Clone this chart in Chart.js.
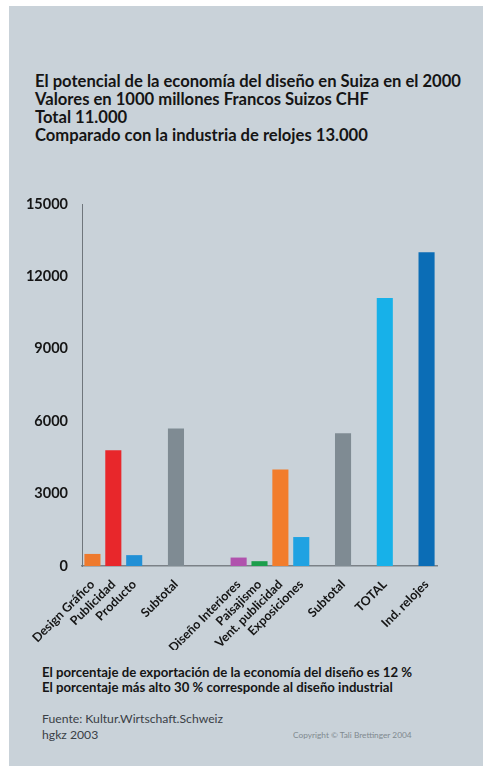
<!DOCTYPE html>
<html>
<head>
<meta charset="utf-8">
<script src="https://cdn.jsdelivr.net/npm/chart.js@4"></script>
<style>
  html, body { margin: 0; padding: 0; background: #ffffff; }
  #page { position: relative; width: 488px; height: 772px; overflow: hidden; }
  #panel { position: absolute; left: 9px; top: 6px; width: 474px; height: 760px; background: #c9d2d9; }
  .txt { position: absolute; white-space: nowrap; font-family: Lato, "Open Sans", sans-serif; color: #151515; }
  #title { left: 35px; top: 72px; font-size: 16.6px; font-weight: bold; line-height: 18px; }
  #note { left: 42px; top: 665px; font-size: 13.2px; font-weight: bold; line-height: 14.5px; }
  #source { left: 42px; top: 711px; font-size: 12.2px; line-height: 16px; color: #3a4046; }
  #copy { left: 293px; top: 730px; font-size: 8.3px; color: #7f898f; }
  #chart { position: absolute; left: 0; top: 180px; }
</style>
</head>
<body>
<div id="page">
  <div id="panel"></div>
  <div id="title" class="txt">El potencial de la economía del diseño en Suiza en el 2000<br>Valores en 1000 millones Francos Suizos CHF<br>Total 11.000<br>Comparado con la industria de relojes 13.000</div>
  <canvas id="chart" width="488" height="470"></canvas>
  <div id="note" class="txt">El porcentaje de exportación de la economía del diseño es 12 %<br>El porcentaje más alto 30 % corresponde al diseño industrial</div>
  <div id="source" class="txt">Fuente: Kultur.Wirtschaft.Schweiz<br>hgkz 2003</div>
  <div id="copy" class="txt">Copyright © Tali Brettinger 2004</div>
</div>
<script>
// categories (empty strings are the gaps between groups)
const categories = ['Design Gráfico', 'Publicidad', 'Producto', '', 'Subtotal', '', '',
    'Diseño Interiores', 'Paisajismo', 'Vent. publicidad', 'Exposiciones', '', 'Subtotal', '',
    'TOTAL', '', 'Ind. relojes'];
// values in 1000 millones CHF
const values = [500, 4800, 450, null, 5700, null, null,
    350, 200, 4000, 1200, null, 5500, null,
    11100, null, 13000];
const yTicks = [0, 3000, 6000, 9000, 12000, 15000];

const barColors = ['#ee7a2e', '#e8272b', '#2190d6', null, '#7f8b93', null, null,
    '#b052ad', '#1c9e4c', '#f27d2c', '#1fa2e2', null, '#7f8b93', null,
    '#17b1e9', null, '#0b6db6'];

const fontFamily = 'Lato, "Open Sans", sans-serif';

new Chart(document.getElementById('chart'), {
    type: 'bar',
    data: {
        labels: categories,
        datasets: [{ data: values, backgroundColor: barColors, borderWidth: 0 }]
    },
    options: {
        responsive: false,
        animation: false,
        layout: { padding: { left: 0, top: 24, right: 51, bottom: 0 } },
        plugins: { legend: { display: false }, tooltip: { enabled: false } },
        datasets: { bar: { categoryPercentage: 1, barPercentage: 0.77 } },
        scales: {
            x: {
                grid: { display: false },
                border: { display: true, color: '#7b8187', width: 1.5 },
                ticks: {
                    autoSkip: false, maxRotation: 45, minRotation: 45,
                    color: '#151515', padding: 3,
                    font: { family: fontFamily, size: 12.5, weight: 'bold' }
                },
                afterFit: s => { s.height = 84; }
            },
            y: {
                min: 0, max: 15000,
                afterBuildTicks: s => { s.ticks = yTicks.map(v => ({ value: v })); },
                grid: { display: false },
                border: { display: true, color: '#6f767c', width: 1 },
                ticks: {
                    color: '#151515', padding: 6,
                    callback: v => String(v),
                    font: { family: fontFamily, size: 14.5, weight: 'bold' }
                },
                afterFit: s => { s.width = 82; }
            }
        }
    }
});
</script>
</body>
</html>
